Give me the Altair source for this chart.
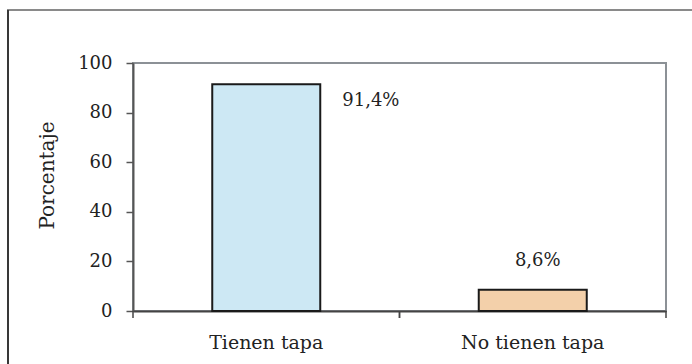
import altair as alt
import pandas as pd

# Share of containers with and without a lid
categories = ["Tienen tapa", "No tienen tapa"]
percentages = [91.4, 8.6]
value_labels = ["91,4%", "8,6%"]
bar_colors = ["#cde8f4", "#f3d0aa"]

df = pd.DataFrame({"cat": categories, "pct": percentages, "lbl": value_labels})

W, H = 533, 248
SERIF = "DejaVu Serif"

x_enc = alt.X(
    "cat:N",
    sort=categories,
    title=None,
    scale=alt.Scale(paddingInner=0, paddingOuter=0),
    axis=alt.Axis(
        labelAngle=0,
        ticks=False,
        labelPadding=22,
        labelFont=SERIF,
        labelFontSize=19,
        labelColor="#222222",
        domainColor="#444444",
        domainWidth=2,
    ),
)

y_scale = alt.Scale(domain=[0, 100])

bars = alt.Chart(df).mark_bar(size=108, stroke="#1a1a1a", strokeWidth=2).encode(
    x=x_enc,
    y=alt.Y(
        "pct:Q",
        scale=y_scale,
        title="Porcentaje",
        axis=alt.Axis(
            values=[0, 20, 40, 60, 80, 100],
            grid=False,
            tickSize=7,
            tickColor="#555555",
            tickWidth=1.5,
            domainColor="#555555",
            domainWidth=2,
            labelPadding=14,
            labelFont=SERIF,
            labelFontSize=18,
            labelColor="#222222",
            titleFont=SERIF,
            titleFontSize=20,
            titleFontWeight="normal",
            titleColor="#222222",
            titleX=-86,
            titleY=112,
            titleAngle=-90,
            titleBaseline="middle",
        ),
    ),
    fill=alt.Fill("cat:N", scale=alt.Scale(domain=categories, range=bar_colors), legend=None),
)

# Category-boundary ticks below the x axis
tick_start = alt.Chart(df).mark_rule(color="#444444", strokeWidth=1.5).encode(
    x=alt.X("cat:N", sort=categories, bandPosition=0),
    y=alt.value(H),
    y2=alt.value(H + 7),
)
tick_end = alt.Chart(df).mark_rule(color="#444444", strokeWidth=1.5).encode(
    x=alt.X("cat:N", sort=categories, bandPosition=1),
    y=alt.value(H),
    y2=alt.value(H + 7),
)

label_style = dict(font=SERIF, fontSize=18, color="#222222", baseline="middle")

label_first = alt.Chart(df).transform_filter(
    alt.datum.cat == categories[0]
).mark_text(align="left", dx=76, dy=17, **label_style).encode(
    x=alt.X("cat:N", sort=categories),
    y=alt.Y("pct:Q", scale=y_scale),
    text="lbl:N",
)

label_second = alt.Chart(df).transform_filter(
    alt.datum.cat == categories[1]
).mark_text(align="center", dx=5, dy=-29, **label_style).encode(
    x=alt.X("cat:N", sort=categories),
    y=alt.Y("pct:Q", scale=y_scale),
    text="lbl:N",
)

# Outer frame around the whole figure
frame = alt.Chart(df).mark_rect(fill=None, stroke="#8a8a8a", strokeWidth=2).encode(
    x=alt.value(-125),
    x2=alt.value(W + 200),
    y=alt.value(-53),
    y2=alt.value(H + 200),
)
frame_left = alt.Chart(df).mark_rule(color="#333333", strokeWidth=1.5).encode(
    x=alt.value(-125),
    y=alt.value(-53),
    y2=alt.value(H + 200),
)

chart = (
    alt.layer(frame, frame_left, bars, tick_start, tick_end, label_first, label_second)
    .properties(
        width=W,
        height=H,
        padding={"left": 133, "top": 63, "right": 26, "bottom": 53},
        autosize=alt.AutoSizeParams(type="none"),
        background="white",
    )
    .configure_view(stroke="#8c9196", strokeWidth=2)
)

chart.save("out.html", embed_options={"renderer": "svg", "actions": False})
